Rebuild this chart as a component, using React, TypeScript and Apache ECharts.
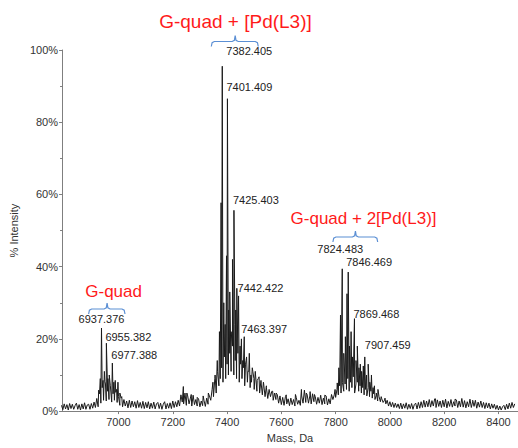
import React, { useEffect, useRef } from "react";
import * as echarts from "echarts";

// ---------- data ----------
const massMin = 6792;
const massMax = 8472;
const xTickValues = [7000, 7200, 7400, 7600, 7800, 8000, 8200, 8400];
const yTickValues = [0, 20, 40, 60, 80, 100];

// baseline (noise / unresolved envelope) sampled every 5 Da from 6790 Da
const baselineStart = 6790;
const baselineStep = 5;
const baselineIntensity = [
  1.6, 0.4, 2.0, 0.6, 1.8, 0.3, 2.1, 0.7, 1.9, 0.5,
  1.5, 2.2, 0.5, 1.8, 0.3, 2.0, 0.6, 2.3, 0.5, 1.7,
  1.9, 0.5, 2.1, 0.8, 2.5, 1.0, 3.5, 1.2, 4.8, 2.2,
  6.5, 3.0, 8.2, 2.8, 5.5, 3.2, 7.0, 2.5, 4.8, 3.0,
  5.2, 2.4, 4.0, 1.6, 3.6, 1.2, 3.2, 1.4, 2.8, 0.9,
  3.0, 1.0, 2.8, 1.2, 2.6, 0.8, 2.9, 1.0, 2.4, 0.8,
  2.7, 0.7, 2.4, 0.9, 2.6, 0.6, 2.2, 0.8, 2.5, 0.6,
  2.0, 2.4, 0.7, 2.2, 0.5, 1.9, 2.6, 0.6, 2.1, 0.8,
  2.3, 0.7, 2.8, 1.0, 2.6, 1.2, 3.0, 1.4, 4.5, 2.5,
  2.0, 5.0, 1.6, 4.2, 2.0, 3.6, 1.4, 4.4, 1.8, 3.2,
  1.4, 3.4, 1.2, 2.8, 1.5, 3.0, 1.3, 3.6, 1.9, 4.2,
  3.0, 6.0, 4.0, 9.0, 5.0, 11.0, 7.0, 9.0, 12.0, 8.0,
  15.0, 9.0, 13.0, 10.0, 16.0, 11.0, 18.0, 10.0, 14.0, 9.0,
  16.0, 8.0, 13.0, 9.0, 12.0, 7.0, 14.0, 8.0, 11.0, 6.5,
  8.0, 11.0, 6.0, 10.0, 5.5, 9.0, 5.0, 8.5, 4.5, 7.5,
  4.0, 7.0, 3.5, 6.0, 4.0, 5.5, 3.0, 5.0, 3.2, 4.6,
  2.2, 4.2, 1.8, 3.8, 1.6, 4.0, 2.0, 3.4, 1.5, 3.6,
  1.8, 3.2, 1.4, 3.8, 1.9, 3.0, 1.6, 4.2, 2.2, 5.8,
  2.4, 4.6, 2.2, 4.2, 2.0, 4.8, 2.6, 4.0, 1.9, 3.8,
  2.2, 4.4, 1.8, 3.6, 2.0, 4.2, 1.7, 3.4, 2.0, 4.6,
  3.2, 4.5, 3.8, 6.0, 4.5, 7.0, 5.0, 8.0, 5.5, 7.5,
  6.0, 9.0, 5.5, 8.0, 6.5, 9.5, 5.0, 7.5, 8.0, 5.5,
  7.0, 5.0, 6.5, 4.5, 6.0, 4.2, 6.5, 4.0, 5.5, 3.6,
  4.8, 3.2, 4.4, 2.8, 4.0, 2.6, 3.4, 2.4, 3.0, 2.0,
  3.0, 1.4, 2.6, 1.2, 2.4, 1.0, 2.2, 1.0, 2.0, 0.7,
  2.2, 0.6, 2.0, 0.8, 2.3, 0.5, 1.9, 0.7, 2.1, 0.5,
  1.8, 2.2, 0.6, 2.4, 0.8, 2.6, 1.0, 3.0, 1.1, 2.8,
  1.2, 3.2, 1.1, 2.9, 1.4, 3.4, 1.0, 3.1, 1.3, 2.8,
  1.0, 3.0, 1.2, 3.3, 0.9, 2.7, 1.3, 3.2, 1.1, 2.6,
  1.4, 3.1, 1.0, 2.8, 1.2, 3.5, 1.1, 2.9, 0.9, 2.6,
  1.2, 3.3, 1.0, 2.7, 1.3, 3.0, 0.8, 2.5, 1.1, 2.8,
  1.0, 2.4, 0.7, 2.3, 0.9, 2.2, 0.6, 2.0, 0.8, 1.9,
  0.5, 1.6, 0.3, 1.4, 0.3, 1.2, 1.6, 0.4, 1.9, 0.6,
  2.2, 0.8, 2.4, 1.0, 2.0,
];

// resolved peaks (mass in Da, % intensity)
const peakMasses = [
  6927, 6933, 6937.376, 6943, 6948, 6952, 6955.382, 6961, 6966, 6971, 6977.388, 6983, 6988, 6993, 6998, 7005, 7012,
  7239, 7252, 7268, 7290, 7312,
  7331, 7348, 7356, 7364, 7372, 7378, 7382.405, 7388, 7393, 7398, 7401.409, 7406, 7410, 7415, 7420, 7425.403,
  7429, 7432, 7436, 7440, 7442.422, 7448, 7453, 7458, 7463.397, 7468, 7472, 7477, 7482, 7488, 7493, 7499, 7504,
  7511, 7518, 7526, 7534, 7545, 7556, 7568, 7581,
  7618, 7652, 7674, 7692, 7706, 7722, 7760,
  7798, 7806, 7812, 7818, 7824.483, 7830, 7836, 7842, 7846.469, 7851, 7857, 7862, 7869.468, 7875, 7880, 7886,
  7891, 7896, 7902, 7907.459, 7914, 7920, 7926, 7932, 7938, 7943, 7950, 7956, 7968, 7982,
  8168, 8240, 8305,
];
const peakIntensity = [
  5.8, 9.0, 23.0, 8.5, 11.0, 7.5, 18.8, 9.0, 10.0, 7.0, 13.3, 8.0, 8.5, 6.0, 8.0, 5.0, 4.0,
  6.8, 5.0, 4.6, 3.8, 4.2,
  5.0, 8.0, 10.0, 14.0, 22.0, 57.7, 95.5, 30.0, 24.0, 43.0, 86.5, 28.0, 33.0, 22.0, 42.0, 55.6,
  24.0, 28.0, 34.0, 20.0, 31.9, 18.0, 20.0, 14.0, 20.6, 13.0, 15.0, 11.0, 16.0, 10.0, 12.0, 9.0, 11.0,
  8.5, 9.5, 7.5, 8.0, 6.5, 6.0, 5.5, 5.0,
  4.5, 4.6, 6.0, 5.0, 5.4, 4.6, 4.4,
  6.0, 7.8, 12.0, 26.6, 39.4, 16.0, 20.6, 32.5, 38.5, 18.0, 22.0, 15.0, 25.6, 14.0, 18.0, 12.0,
  13.0, 11.0, 12.5, 15.0, 10.0, 13.0, 8.0, 10.0, 6.5, 7.0, 5.0, 6.0, 4.0, 3.6,
  3.4, 3.3, 3.0,
];

// annotated peaks
const labeledMasses = [
  6937.376, 6955.382, 6977.388, 7382.405, 7401.409, 7425.403, 7442.422, 7463.397,
  7824.483, 7846.469, 7869.468, 7907.459,
];

// species groups
const groupNames = ["G-quad", "G-quad + [Pd(L3)]", "G-quad + 2[Pd(L3)]"];
const groupRanges = [
  [6890, 7024],
  [7342, 7515],
  [7790, 7955],
];
const groupBracketTip = [6958, 7430, 7873];
const groupTitleCenter = [6982, 7431, 7903];

// ---------- layout (pixels, annotation placement only) ----------
const labelLayout: { dx: number; dy: number; align: string }[] = [
  { dx: 0, dy: -9, align: "center" },
  { dx: -1, dy: -6, align: "left" },
  { dx: -1, dy: -8, align: "left" },
  { dx: 4, dy: -15, align: "left" },
  { dx: -1, dy: -12, align: "left" },
  { dx: -1, dy: -10, align: "left" },
  { dx: -1, dy: -8, align: "left" },
  { dx: -3, dy: -8, align: "left" },
  { dx: -2, dy: -20, align: "center" },
  { dx: -2, dy: -10, align: "left" },
  { dx: -1, dy: -5, align: "left" },
  { dx: 0, dy: -12, align: "left" },
];
const bracketY = [309, 41.5, 237];
const titleY = [291.5, 21, 218.5];
const titleSize = [17, 19, 17];

const FONT = '"Liberation Sans", Arial, Helvetica, sans-serif';

function buildSeriesData(): [number, number][] {
  const pts: [number, number][] = [];
  baselineIntensity.forEach((v, i) => pts.push([baselineStart + i * baselineStep, v]));
  peakMasses.forEach((m, i) => pts.push([m, peakIntensity[i]]));
  pts.sort((a, b) => a[0] - b[0]);
  return pts;
}

export default function App() {
  const ref = useRef<HTMLDivElement>(null);

  useEffect(() => {
    if (!ref.current) return;
    const chart = echarts.init(ref.current, null, { renderer: "svg" });
    const option: any = {
      animation: false,
      backgroundColor: "#ffffff",
      grid: { left: 56, right: 0, top: 50, bottom: 30, containLabel: false },
      xAxis: {
        type: "value",
        min: massMin,
        max: massMax,
        name: "Mass, Da",
        nameLocation: "middle",
        nameGap: 20,
        nameTextStyle: { fontFamily: FONT, fontSize: 11, color: "#333" },
        splitLine: { show: false },
        axisLine: { show: true, lineStyle: { color: "#7f7f7f", width: 1 } },
        axisTick: { show: true, length: 3, inside: false, customValues: xTickValues, lineStyle: { color: "#7f7f7f" } },
        axisLabel: {
          customValues: xTickValues,
          formatter: (v: number) => String(v),
          margin: 5,
          fontFamily: FONT,
          fontSize: 11,
          color: "#333",
        },
      },
      yAxis: {
        type: "value",
        min: 0,
        max: 100,
        interval: 20,
        name: "% Intensity",
        nameLocation: "middle",
        nameGap: 31,
        nameRotate: 90,
        nameTextStyle: { fontFamily: FONT, fontSize: 11, color: "#333" },
        splitLine: { show: false },
        axisLine: { show: true, lineStyle: { color: "#7f7f7f", width: 1 } },
        axisTick: { show: true, length: 3, lineStyle: { color: "#7f7f7f" } },
        minorTick: { show: true, splitNumber: 2, length: 2, lineStyle: { color: "#7f7f7f" } },
        axisLabel: {
          formatter: (v: number) => (yTickValues.includes(v) ? v + "%" : ""),
          margin: 4,
          fontFamily: FONT,
          fontSize: 11,
          color: "#333",
        },
      },
      series: [
        {
          type: "line",
          data: buildSeriesData(),
          showSymbol: false,
          symbol: "none",
          lineStyle: { color: "#1a1a1a", width: 1 },
          clip: true,
        },
      ],
    };
    chart.setOption(option);

    const toPx = (m: number, v: number) =>
      chart.convertToPixel({ gridIndex: 0 }, [m, v]) as number[];

    const graphics: any[] = [];
    labeledMasses.forEach((m, i) => {
      const idx = peakMasses.indexOf(m);
      const h = peakIntensity[idx];
      const p = toPx(m, h);
      const lay = labelLayout[i];
      graphics.push({
        type: "text",
        x: p[0] + lay.dx,
        y: p[1] + lay.dy,
        silent: true,
        style: {
          text: m.toFixed(3),
          font: `11px ${FONT}`,
          fill: "#222",
          align: lay.align,
          textAlign: lay.align,
          verticalAlign: "middle",
          textVerticalAlign: "middle",
        },
      });
    });

    groupNames.forEach((name, i) => {
      const l = toPx(groupRanges[i][0], 0)[0];
      const r = toPx(groupRanges[i][1], 0)[0];
      const c = toPx(groupBracketTip[i], 0)[0];
      const y = bracketY[i];
      graphics.push({
        type: "polyline",
        silent: true,
        shape: {
          points: [
            [l, y + 5],
            [l + 0.8, y + 1.2],
            [l + 3, y],
            [c - 3, y],
            [c - 0.8, y - 1.2],
            [c, y - 6],
            [c + 0.8, y - 1.2],
            [c + 3, y],
            [r - 3, y],
            [r - 0.8, y + 1.2],
            [r, y + 5],
          ],
        },
        style: { stroke: "#5b8fd4", lineWidth: 1.2, fill: "none" },
      });
      const tc = toPx(groupTitleCenter[i], 0)[0];
      graphics.push({
        type: "text",
        x: tc,
        y: titleY[i],
        silent: true,
        style: {
          text: name,
          font: `${titleSize[i]}px ${FONT}`,
          fill: "#ff1a1a",
          align: "center",
          textAlign: "center",
          verticalAlign: "middle",
          textVerticalAlign: "middle",
        },
      });
    });

    chart.setOption({ graphic: graphics });

    return () => chart.dispose();
  }, []);

  return <div ref={ref} style={{ width: 518, height: 448, position: "absolute", left: 0, top: 0 }} />;
}
